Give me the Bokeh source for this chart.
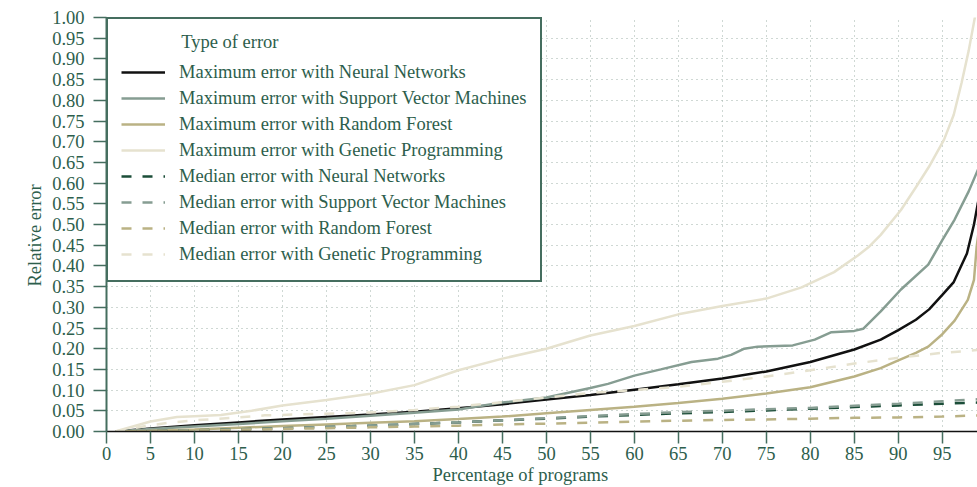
from bokeh.plotting import figure
from bokeh.models import Range1d, FixedTicker, Title
from bokeh.embed import file_html
from bokeh.resources import INLINE

# ---------------- data ----------------
x_max_nn = [1, 5, 10, 15, 20, 25, 30, 35, 40, 45, 50, 55, 60, 65, 70, 75, 80, 85, 88, 90, 92, 93.5, 95, 96.3, 97.8, 98.6, 99.2]
y_max_nn = [0.0, 0.007, 0.015, 0.022, 0.029, 0.035, 0.041, 0.048, 0.056, 0.066, 0.077, 0.088, 0.101, 0.114, 0.128, 0.145, 0.168, 0.198, 0.222, 0.245, 0.270, 0.295, 0.330, 0.361, 0.430, 0.500, 0.570]

x_max_svm = [1, 5, 10, 15, 20, 25, 30, 35, 40, 45, 50, 55, 57, 60, 63, 66.5, 69.5, 71, 72.5, 74, 78, 80.5, 82.4, 85, 86, 88, 90.3, 93.4, 95, 96.4, 98, 99.2]
y_max_svm = [0.0, 0.006, 0.012, 0.018, 0.025, 0.031, 0.038, 0.045, 0.053, 0.070, 0.082, 0.105, 0.115, 0.135, 0.150, 0.168, 0.176, 0.185, 0.200, 0.205, 0.208, 0.222, 0.240, 0.243, 0.248, 0.290, 0.343, 0.403, 0.462, 0.512, 0.580, 0.640]

x_max_rf = [1, 5, 10, 15, 20, 25, 30, 35, 40, 45, 50, 55, 60, 65, 70, 75, 80, 85, 88, 90, 92, 93.4, 95, 96.4, 97.9, 98.6, 98.9, 99.2]
y_max_rf = [0.0, 0.002, 0.005, 0.009, 0.013, 0.017, 0.021, 0.025, 0.030, 0.036, 0.044, 0.052, 0.060, 0.069, 0.079, 0.092, 0.107, 0.133, 0.153, 0.172, 0.190, 0.205, 0.235, 0.268, 0.318, 0.366, 0.445, 0.495]

x_max_gp = [1, 3, 5, 8, 10, 13, 16.5, 20, 25, 30, 35, 40, 45, 50, 55, 60, 65, 70, 75, 79, 82.7, 85.4, 86.6, 88, 90.3, 92, 93.5, 95.2, 96.3, 97.2, 98, 98.7, 99.2]
y_max_gp = [0.0, 0.012, 0.024, 0.035, 0.037, 0.040, 0.050, 0.063, 0.076, 0.091, 0.112, 0.148, 0.176, 0.200, 0.232, 0.255, 0.283, 0.303, 0.321, 0.348, 0.385, 0.425, 0.445, 0.475, 0.535, 0.590, 0.640, 0.705, 0.765, 0.843, 0.920, 1.000, 1.050]

x_med = [1, 5, 10, 15, 20, 25, 30, 35, 40, 45, 50, 55, 60, 65, 70, 75, 80, 85, 90, 95, 99.2]
y_med_nn = [0.0, 0.001, 0.003, 0.005, 0.008, 0.011, 0.014, 0.018, 0.022, 0.027, 0.031, 0.036, 0.040, 0.044, 0.047, 0.051, 0.055, 0.059, 0.063, 0.067, 0.070]
y_med_svm = [0.0, 0.001, 0.003, 0.005, 0.008, 0.011, 0.014, 0.018, 0.022, 0.027, 0.032, 0.037, 0.042, 0.047, 0.050, 0.054, 0.057, 0.062, 0.067, 0.073, 0.078]
y_med_rf = [0.0, 0.001, 0.002, 0.004, 0.006, 0.008, 0.010, 0.012, 0.014, 0.017, 0.019, 0.021, 0.024, 0.026, 0.028, 0.029, 0.031, 0.033, 0.034, 0.036, 0.039]

x_med_gp = [1, 3, 5, 7, 10, 15, 18, 25, 30, 35, 40, 45, 50, 55, 60, 65, 70, 75, 80, 85, 90, 95, 99.2]
y_med_gp = [0.0, 0.008, 0.015, 0.021, 0.027, 0.034, 0.039, 0.043, 0.046, 0.052, 0.060, 0.071, 0.082, 0.093, 0.100, 0.108, 0.120, 0.133, 0.148, 0.164, 0.178, 0.190, 0.197]

x_ticks = [0, 5, 10, 15, 20, 25, 30, 35, 40, 45, 50, 55, 60, 65, 70, 75, 80, 85, 90, 95]
y_ticks = [0.0, 0.05, 0.1, 0.15, 0.2, 0.25, 0.3, 0.35, 0.4, 0.45, 0.5, 0.55, 0.6, 0.65, 0.7, 0.75, 0.8, 0.85, 0.9, 0.95, 1.0]
y_tick_labels = ["0.00", "0.05", "0.10", "0.15", "0.20", "0.25", "0.30", "0.35", "0.40", "0.45", "0.50",
                 "0.55", "0.60", "0.65", "0.70", "0.75", "0.80", "0.85", "0.90", "0.95", "1.00"]

series_labels = [
    "Maximum error with Neural Networks",
    "Maximum error with Support Vector Machines",
    "Maximum error with Random Forest",
    "Maximum error with Genetic Programming",
    "Median error with Neural Networks",
    "Median error with Support Vector Machines",
    "Median error with Random Forest",
    "Median error with Genetic Programming",
]
legend_title = "Type of error"
x_label = "Percentage of programs"
y_label = "Relative error"

# ---------------- styles ----------------
FONT = "Liberation Serif"
FS = "18.5px"
TEXT = "#2d5e4c"
GREEN = "#456e5f"
GRID = "#9fb0a8"
C_NN = "#111111"
C_SVM = "#869d92"
C_RF = "#bab284"
C_GP = "#e6e2cf"
C_MNN = "#1b4d38"

p = figure(width=977, height=487, output_backend="svg", toolbar_location=None,
           x_range=Range1d(0, 99), y_range=Range1d(0, 1),
           min_border_left=106, min_border_right=0, min_border_top=17, min_border_bottom=56)
p.outline_line_color = None
p.background_fill_color = "white"
p.border_fill_color = "white"

solid_w = 2.5
dash = "10 11"
p.line(x_max_nn, y_max_nn, line_color=C_NN, line_width=solid_w, legend_label=series_labels[0])
p.line(x_max_svm, y_max_svm, line_color=C_SVM, line_width=solid_w, legend_label=series_labels[1])
p.line(x_max_rf, y_max_rf, line_color=C_RF, line_width=solid_w, legend_label=series_labels[2])
p.line(x_max_gp, y_max_gp, line_color=C_GP, line_width=solid_w, legend_label=series_labels[3])
p.line(x_med, y_med_nn, line_color=C_MNN, line_width=solid_w, line_dash=dash, legend_label=series_labels[4])
p.line(x_med, y_med_svm, line_color=C_SVM, line_width=solid_w, line_dash=dash, legend_label=series_labels[5])
p.line(x_med, y_med_rf, line_color=C_RF, line_width=solid_w, line_dash=dash, legend_label=series_labels[6])
p.line(x_med_gp, y_med_gp, line_color=C_GP, line_width=solid_w, line_dash=dash, legend_label=series_labels[7])

# axes
p.xaxis.ticker = FixedTicker(ticks=x_ticks)
p.yaxis.ticker = FixedTicker(ticks=y_ticks)
p.yaxis.major_label_overrides = {t: l for t, l in zip(y_ticks, y_tick_labels)}
for ax in (p.xaxis, p.yaxis):
    ax.major_label_text_font = FONT
    ax.major_label_text_font_size = FS
    ax.major_label_text_color = TEXT
    ax.major_tick_line_color = GREEN
    ax.major_tick_line_width = 1.5
    ax.major_tick_in = 0
    ax.minor_tick_line_color = None
p.xaxis.axis_line_color = "#111111"
p.xaxis.axis_line_width = 1.5
p.xaxis.major_tick_out = 12
p.xaxis.major_label_standoff = 3
p.yaxis.axis_line_color = GREEN
p.yaxis.axis_line_width = 2
p.yaxis.major_tick_out = 13
p.yaxis.major_label_standoff = 9

# axis titles (side titles, offset like the reference)
p.add_layout(Title(text=x_label, align="left", offset=326, standoff=0,
                   text_font=FONT, text_font_size=FS, text_font_style="normal",
                   text_color=TEXT), "below")
p.add_layout(Title(text=y_label, align="left", offset=145, standoff=9,
                   text_font=FONT, text_font_size=FS, text_font_style="normal",
                   text_color=TEXT), "left")

# grid
for g in (p.xgrid, p.ygrid):
    g.grid_line_color = GRID
    g.grid_line_dash = "1 4"
    g.grid_line_width = 1
p.xgrid.ticker = FixedTicker(ticks=x_ticks)
p.ygrid.ticker = FixedTicker(ticks=y_ticks)

# legend
lg = p.legend[0]
lg.location = "top_left"
lg.margin = 0
lg.padding = 13
lg.spacing = 0
lg.glyph_width = 44
lg.glyph_height = 26
lg.label_height = 26
lg.label_standoff = 14
lg.label_text_font = FONT
lg.label_text_font_size = FS
lg.label_text_color = TEXT
lg.border_line_color = GREEN
lg.border_line_width = 2
lg.border_line_alpha = 1
lg.background_fill_color = "white"
lg.background_fill_alpha = 1
# heading indented with no-break spaces so it lines up with the item labels
lg.title = "\u00a0" * 13 + legend_title
lg.title_text_font = FONT
lg.title_text_font_size = FS
lg.title_text_font_style = "normal"
lg.title_text_color = TEXT
lg.title_standoff = 6

open("out.html", "w").write(file_html(p, INLINE))
